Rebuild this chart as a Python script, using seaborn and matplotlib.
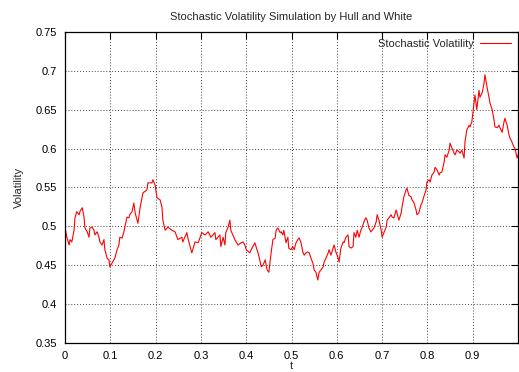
import matplotlib
matplotlib.use("Agg")
import matplotlib.pyplot as plt
import seaborn as sns
import pandas as pd

time = [
    0.000, 0.004, 0.009, 0.011, 0.015, 0.020, 0.022, 0.026, 0.031, 0.033,
    0.038, 0.042, 0.044, 0.049, 0.053, 0.055, 0.060, 0.064, 0.066, 0.071,
    0.075, 0.077, 0.082, 0.086, 0.088, 0.093, 0.097, 0.099, 0.104, 0.108,
    0.110, 0.115, 0.119, 0.121, 0.126, 0.130, 0.132, 0.137, 0.141, 0.143,
    0.148, 0.152,
    0.155, 0.161, 0.166, 0.172, 0.181, 0.183, 0.192, 0.194, 0.199, 0.203,
    0.210, 0.214, 0.216, 0.221, 0.227, 0.236, 0.243, 0.249, 0.258, 0.260,
    0.269, 0.272, 0.280, 0.287, 0.294, 0.302, 0.309,
    0.316, 0.322, 0.331, 0.333, 0.342, 0.344, 0.349, 0.353, 0.355, 0.360,
    0.364, 0.366, 0.375, 0.382, 0.389, 0.393, 0.397, 0.400, 0.408, 0.411,
    0.419, 0.426, 0.430, 0.433, 0.437, 0.442, 0.446, 0.450, 0.455, 0.459,
    0.464, 0.466, 0.470, 0.475,
    0.477, 0.481, 0.483, 0.488, 0.492, 0.494, 0.499, 0.503, 0.506, 0.510,
    0.514, 0.517, 0.521, 0.525, 0.528, 0.532, 0.536, 0.539, 0.543, 0.547,
    0.550, 0.554, 0.558, 0.561, 0.565, 0.570, 0.572, 0.576, 0.581, 0.583,
    0.587, 0.592, 0.594, 0.598, 0.603, 0.605, 0.609, 0.614, 0.616, 0.620,
    0.625, 0.627, 0.631, 0.636,
    0.638, 0.642, 0.645, 0.649, 0.653, 0.656, 0.660, 0.664, 0.667, 0.671,
    0.675, 0.678, 0.682, 0.687, 0.689, 0.693, 0.698, 0.700, 0.704, 0.709,
    0.711, 0.715, 0.720, 0.722, 0.726, 0.731, 0.733, 0.737, 0.742, 0.744,
    0.748, 0.753, 0.755, 0.759, 0.764, 0.766, 0.770, 0.775, 0.777, 0.781,
    0.786, 0.788, 0.792, 0.797,
    0.799, 0.804, 0.806, 0.810, 0.815, 0.817, 0.821, 0.826, 0.828, 0.832,
    0.837, 0.839, 0.843, 0.848, 0.850, 0.854, 0.859, 0.861, 0.865, 0.870,
    0.872, 0.876, 0.881, 0.883, 0.887, 0.892, 0.894, 0.898, 0.903, 0.905,
    0.909, 0.914, 0.916, 0.921, 0.925, 0.927, 0.932, 0.936, 0.938, 0.943,
    0.947, 0.949, 0.954, 0.958, 0.960, 0.965, 0.969, 0.971, 0.976, 0.980,
    0.982, 0.987, 0.991, 0.993, 0.998, 1.000,
]

volatility = [
    0.499, 0.486, 0.476, 0.483, 0.480, 0.495, 0.511, 0.519, 0.515, 0.519,
    0.524, 0.512, 0.498, 0.493, 0.486, 0.498, 0.499, 0.495, 0.489, 0.493,
    0.486, 0.480, 0.476, 0.483, 0.470, 0.459, 0.457, 0.448, 0.453, 0.457,
    0.459, 0.470, 0.476, 0.486, 0.485, 0.493, 0.499, 0.512, 0.511, 0.515,
    0.519, 0.530,
    0.517, 0.504, 0.525, 0.543, 0.547, 0.556, 0.556, 0.560, 0.553, 0.537,
    0.534, 0.525, 0.508, 0.495, 0.499, 0.495, 0.493, 0.483, 0.486, 0.480,
    0.492, 0.483, 0.466, 0.480, 0.479, 0.492, 0.489,
    0.493, 0.486, 0.492, 0.483, 0.489, 0.474, 0.486, 0.476, 0.492, 0.499,
    0.508, 0.495, 0.483, 0.476, 0.479, 0.480, 0.476, 0.470, 0.466, 0.470,
    0.479, 0.466, 0.457, 0.448, 0.450, 0.457, 0.444, 0.441, 0.466, 0.483,
    0.485, 0.495, 0.498, 0.492,
    0.493, 0.489, 0.495, 0.479, 0.486, 0.472, 0.470, 0.474, 0.470, 0.479,
    0.483, 0.485, 0.479, 0.467, 0.463, 0.466, 0.467, 0.466, 0.459, 0.453,
    0.444, 0.441, 0.431, 0.441, 0.444, 0.448, 0.454, 0.459, 0.466, 0.470,
    0.463, 0.472, 0.476, 0.467, 0.459, 0.454, 0.472, 0.480, 0.479, 0.486,
    0.489, 0.474, 0.472, 0.474,
    0.492, 0.486, 0.495, 0.486, 0.495, 0.499, 0.506, 0.511, 0.508, 0.498,
    0.493, 0.495, 0.498, 0.506, 0.515, 0.508, 0.495, 0.486, 0.492, 0.499,
    0.508, 0.511, 0.515, 0.512, 0.511, 0.521, 0.517, 0.508, 0.517, 0.525,
    0.538, 0.547, 0.549, 0.540, 0.538, 0.534, 0.531, 0.521, 0.515, 0.517,
    0.528, 0.530, 0.538, 0.547,
    0.557, 0.560, 0.557, 0.566, 0.570, 0.576, 0.573, 0.566, 0.569, 0.570,
    0.583, 0.592, 0.589, 0.598, 0.607, 0.601, 0.594, 0.592, 0.598, 0.596,
    0.594, 0.598, 0.588, 0.609, 0.624, 0.630, 0.628, 0.634, 0.659, 0.669,
    0.650, 0.675, 0.666, 0.672, 0.684, 0.695, 0.678, 0.666, 0.659, 0.650,
    0.637, 0.628, 0.627, 0.630, 0.627, 0.621, 0.634, 0.639, 0.630, 0.618,
    0.614, 0.608, 0.602, 0.601, 0.588, 0.592,
]

x_ticks = [0, 0.1, 0.2, 0.3, 0.4, 0.5, 0.6, 0.7, 0.8, 0.9]
x_tick_labels = ["0", "0.1", "0.2", "0.3", "0.4", "0.5", "0.6", "0.7", "0.8", "0.9"]
y_ticks = [0.35, 0.4, 0.45, 0.5, 0.55, 0.6, 0.65, 0.7, 0.75]
y_tick_labels = ["0.35", "0.4", "0.45", "0.5", "0.55", "0.6", "0.65", "0.7", "0.75"]

sns.set_theme(style="white")
plt.rcParams["font.family"] = ["Liberation Sans", "DejaVu Sans"]
plt.rcParams["font.size"] = 8

W, H = 519, 372
fig = plt.figure(figsize=(W / 100, H / 100), dpi=100)
ax = fig.add_axes([65 / W, 1 - 343 / H, (518 - 65) / W, (343 - 32) / H])

df = pd.DataFrame({"t": time, "Volatility": volatility})
sns.lineplot(data=df, x="t", y="Volatility", ax=ax, color="#ff0000",
             linewidth=0.8, label="Stochastic Volatility")

ax.set_xlim(0, 1.0)
ax.set_ylim(0.35, 0.75)
ax.set_xticks(x_ticks)
ax.set_xticklabels(x_tick_labels)
ax.set_yticks(y_ticks)
ax.set_yticklabels(y_tick_labels)

ax.grid(True, color="#444444", linestyle=(0, (1, 2)), linewidth=0.7)
ax.tick_params(direction="in", length=5, width=0.8, colors="black",
               top=True, right=True, labelsize=8, pad=6)
for s in ax.spines.values():
    s.set_color("black")
    s.set_linewidth(0.9)

ax.set_xlabel("t", fontsize=8, labelpad=0)
ax.set_ylabel("Volatility", fontsize=8, labelpad=8)
ax.set_title("Stochastic Volatility Simulation by Hull and White", fontsize=8, pad=9)

ax.legend(loc="upper right", frameon=False, markerfirst=False, fontsize=8,
          handlelength=2.8, borderaxespad=0.2, handletextpad=0.6)

fig.savefig("out.png", dpi=100)
